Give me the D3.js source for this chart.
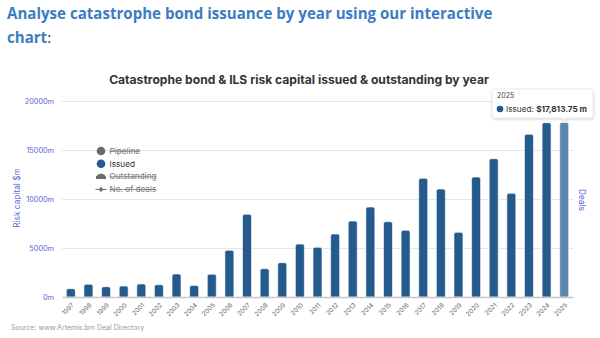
<!DOCTYPE html>
<html>
<head>
<meta charset="utf-8">
<script src="https://cdn.jsdelivr.net/npm/d3@7"></script>
<style>
  html, body { margin: 0; padding: 0; background: #fff; }
  svg { display: block; }
</style>
</head>
<body>
<svg id="chart" width="600" height="338"></svg>
<script>
// Issued cat bond & ILS risk capital by year ($m)
const years = ["1997","1998","1999","2000","2001","2002","2003","2004","2005","2006",
  "2007","2008","2009","2010","2011","2012","2013","2014","2015","2016",
  "2017","2018","2019","2020","2021","2022","2023","2024","2025"];
const issued = [850, 1300, 1050, 1120, 1330, 1250, 2350, 1170, 2320, 4760,
  8440, 2890, 3500, 5400, 5070, 6430, 7750, 9180, 7680, 6800,
  12110, 11020, 6600, 12240, 14110, 10580, 16600, 17790, 17813.75];
const yTicks = [0, 5000, 10000, 15000, 20000];
const legendItems = ["Pipeline", "Issued", "Outstanding", "No. of deals"];
const hiddenSeries = ["Pipeline", "Outstanding", "No. of deals"];
const highlightYear = "2025";

const svg = d3.select("#chart");
const font = "Inter, 'Liberation Sans', Arial, sans-serif";
const axisColor = "#6161d8";

// Page heading, sized so the first line spans the text column
const head = svg.append("text").attr("font-family", "'Open Sans', sans-serif")
  .attr("font-size", 18).attr("font-weight", 700).attr("fill", "#3b7dbf");
const l1 = head.append("tspan").attr("x", 7).attr("y", 19)
  .text("Analyse catastrophe bond issuance by year using our interactive");
head.append("tspan").attr("x", 7).attr("y", 43).text("chart");
head.append("tspan").attr("font-weight", 400).attr("fill", "#333").text(":");
const w1 = l1.node().getComputedTextLength();
head.attr("font-size", 18 * 486 / w1);

// Chart title
svg.append("text").attr("x", 299).attr("y", 84).attr("text-anchor", "middle")
  .attr("font-family", font).attr("font-size", 12.1).attr("font-weight", 700)
  .attr("fill", "#333")
  .text("Catastrophe bond & ILS risk capital issued & outstanding by year");

const x = d3.scaleBand().domain(years).range([62, 573]).paddingInner(0.49).paddingOuter(0.245);
const y = d3.scaleLinear().domain([0, 20000]).range([297, 101]);

// Grid lines
svg.append("g").selectAll("line").data(yTicks.filter(d => d > 0)).join("line")
  .attr("x1", 62).attr("x2", 573)
  .attr("y1", d => y(d) + 0.5).attr("y2", d => y(d) + 0.5)
  .attr("stroke", "#e6e6e6").attr("stroke-width", 1);

// Left axis
const yAxis = svg.append("g").attr("transform", "translate(54,0)")
  .call(d3.axisLeft(y).tickValues(yTicks).tickSize(0).tickFormat(d => d + "m"));
yAxis.select(".domain").remove();
yAxis.selectAll("text").attr("font-family", font).attr("font-size", 7.3)
  .attr("fill", axisColor).attr("dx", 0).attr("x", 0);

svg.append("text").attr("transform", "translate(20,198) rotate(-90)")
  .attr("text-anchor", "middle").attr("font-family", font).attr("font-size", 8.3)
  .attr("fill", axisColor).text("Risk capital $m");
svg.append("text").attr("transform", "translate(579,200) rotate(90)")
  .attr("text-anchor", "middle").attr("font-family", font).attr("font-size", 8.3)
  .attr("fill", axisColor).text("Deals");

// Bars with rounded tops
const r = 2;
svg.append("g").selectAll("path").data(years).join("path")
  .attr("d", (d, i) => {
    const x0 = x(d), w = x.bandwidth(), top = y(issued[i]), base = y(0);
    return `M${x0},${base}V${top + r}Q${x0},${top} ${x0 + r},${top}H${x0 + w - r}Q${x0 + w},${top} ${x0 + w},${top + r}V${base}Z`;
  })
  .attr("fill", d => d === highlightYear ? "#5d87af" : "#245b8c")
  .attr("stroke", "#fff").attr("stroke-width", 0.6);

// Bottom axis
const xAxis = svg.append("g").attr("transform", "translate(0,297)")
  .call(d3.axisBottom(x).tickSize(0));
xAxis.select(".domain").attr("stroke", "#c8c8c8").attr("stroke-width", 1.5);
xAxis.selectAll("text").attr("font-family", font).attr("font-size", 6.3)
  .attr("fill", "#666").attr("text-anchor", "end")
  .attr("transform", "translate(2,7) rotate(-45)").attr("dy", "0.35em").attr("y", 0);

// Legend
const lg = svg.append("g").attr("transform", "translate(101,151)");
legendItems.forEach((name, i) => {
  const g = lg.append("g").attr("transform", `translate(0,${i * 12.8})`);
  const hidden = hiddenSeries.includes(name);
  if (name === "Pipeline" || name === "Issued") {
    g.append("circle").attr("r", 4.3).attr("fill", name === "Issued" ? "#245b8c" : "#6b6b6b");
  } else if (name === "Outstanding") {
    g.append("path").attr("d", "M-5,2.5V0Q-3,-2.5 0,-3Q3,-2.5 5,0V2.5Z").attr("fill", "#6b6b6b");
  } else {
    g.append("line").attr("x1", -5.5).attr("x2", 5.5).attr("stroke", "#6b6b6b").attr("stroke-width", 1);
    g.append("path").attr("d", "M0,-2.5L2.5,0L0,2.5L-2.5,0Z").attr("fill", "#6b6b6b");
  }
  g.append("text").attr("x", 8.5).attr("y", 0).attr("dy", "0.35em")
    .attr("font-family", font).attr("font-size", 8.2)
    .attr("fill", hidden ? "#777" : "#333")
    .attr("text-decoration", hidden ? "line-through" : null)
    .text(name);
});

// Source note
svg.append("text").attr("x", 11).attr("y", 330).attr("font-family", font)
  .attr("font-size", 7).attr("fill", "#9a9a9a").text("Source: www.Artemis.bm Deal Directory");

// Tooltip for the highlighted year
const hi = years.indexOf(highlightYear);
const tipX = x(highlightYear) + x.bandwidth() / 2;
const tipBottom = y(issued[hi]) - 3;
const tb = { x: 492, y: 89, w: 101, h: 29 };
const defs = svg.append("defs");
const f = defs.append("filter").attr("id", "shadow").attr("x", "-20%").attr("y", "-20%")
  .attr("width", "140%").attr("height", "160%");
f.append("feDropShadow").attr("dx", 0.5).attr("dy", 1).attr("stdDeviation", 1.2)
  .attr("flood-color", "#000").attr("flood-opacity", 0.2);
const tip = svg.append("g");
tip.append("path")
  .attr("d", `M${tb.x + 2},${tb.y}H${tb.x + tb.w - 2}Q${tb.x + tb.w},${tb.y} ${tb.x + tb.w},${tb.y + 2}V${tb.y + tb.h - 2}Q${tb.x + tb.w},${tb.y + tb.h} ${tb.x + tb.w - 2},${tb.y + tb.h}H${tipX + 4}L${tipX},${tipBottom}L${tipX - 4},${tb.y + tb.h}H${tb.x + 2}Q${tb.x},${tb.y + tb.h} ${tb.x},${tb.y + tb.h - 2}V${tb.y + 2}Q${tb.x},${tb.y} ${tb.x + 2},${tb.y}Z`)
  .attr("fill", "#fff").attr("stroke", "#e0e0e0").attr("stroke-width", 0.6)
  .attr("filter", "url(#shadow)");
tip.append("text").attr("x", tb.x + 5).attr("y", tb.y + 9).attr("font-family", font)
  .attr("font-size", 7).attr("fill", "#444").text(highlightYear);
tip.append("circle").attr("cx", tb.x + 8).attr("cy", tb.y + 20).attr("r", 3.3).attr("fill", "#245b8c");
const t2 = tip.append("text").attr("x", tb.x + 14).attr("y", tb.y + 22.5)
  .attr("font-family", font).attr("font-size", 8.2).attr("fill", "#333");
t2.append("tspan").text("Issued: ");
t2.append("tspan").attr("font-weight", 700)
  .text("$" + d3.format(",.2f")(issued[hi]) + " m");
</script>
</body>
</html>
